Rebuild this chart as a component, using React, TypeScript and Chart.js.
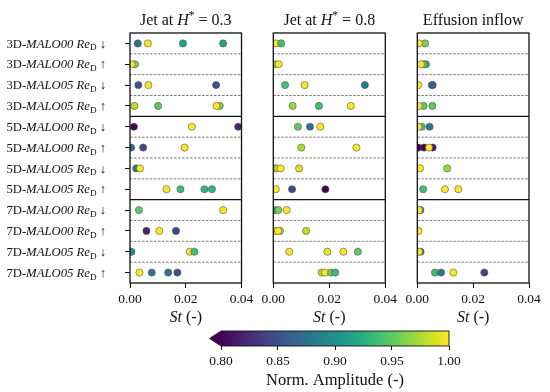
import React, { useEffect, useRef } from 'react';
import { Chart, registerables } from 'chart.js';

Chart.register(...registerables);

// ---------------- data ----------------
const rowCase = ['3D', '3D', '3D', '3D', '5D', '5D', '5D', '5D', '7D', '7D', '7D', '7D'];
const rowModel = ['MALO00', 'MALO00', 'MALO05', 'MALO05', 'MALO00', 'MALO00', 'MALO05', 'MALO05', 'MALO00', 'MALO00', 'MALO05', 'MALO05'];
const rowDir = ['↓', '↑', '↓', '↑', '↓', '↑', '↓', '↑', '↓', '↑', '↓', '↑'];

const xTicks = [0, 0.02, 0.04];
const cbarTicks = [0.8, 0.85, 0.9, 0.95, 1.0];
const cbarMin = 0.8;
const cbarMax = 1.0;

// Jet at H* = 0.3
const jet03St: number[][] = [
  [0.0028, 0.0064, 0.019, 0.0334],
  [0.0018, 0.0006],
  [0.003, 0.0066, 0.0309],
  [0.0016, 0.0101, 0.0322, 0.031],
  [0.0014, 0.0222, 0.0388],
  [0.0004, 0.0047, 0.0196],
  [0.0022, 0.0036],
  [0.0131, 0.0181, 0.0267, 0.0294],
  [0.0032, 0.0334],
  [0.0059, 0.0105, 0.0165],
  [0.0, 0.0005, 0.0214, 0.0231],
  [0.0034, 0.0078, 0.0137, 0.017],
];
const jet03Amp: number[][] = [
  [0.875, 1.0, 0.915, 0.915],
  [0.96, 1.0],
  [0.85, 1.0, 0.85],
  [0.98, 0.95, 0.96, 1.0],
  [0.8, 1.0, 0.82],
  [0.87, 0.845, 1.0],
  [0.88, 1.0],
  [1.0, 0.935, 0.93, 0.93],
  [0.95, 1.0],
  [0.82, 1.0, 0.845],
  [1.0, 0.9, 1.0, 0.94],
  [1.0, 0.88, 0.875, 0.85],
];

// Jet at H* = 0.8
const jet08St: number[][] = [
  [0.0009, 0.0028],
  [0.0005, 0.0019],
  [0.0042, 0.0112, 0.0327],
  [0.0069, 0.0163, 0.0277],
  [0.0088, 0.0131, 0.0168],
  [0.01, 0.0297],
  [0.0006, 0.0014, 0.0026, 0.0092],
  [0.0009, 0.0067, 0.0186],
  [0.0005, 0.0018, 0.0048],
  [0.0024, 0.0007, 0.0017, 0.0117],
  [0.0057, 0.0193, 0.025, 0.0302],
  [0.0173, 0.0185, 0.0206, 0.0221],
];
const jet08Amp: number[][] = [
  [1.0, 0.94],
  [0.96, 1.0],
  [0.94, 1.0, 0.88],
  [0.97, 0.94, 1.0],
  [0.95, 0.875, 1.0],
  [0.975, 1.0],
  [0.95, 0.98, 1.0, 0.99],
  [1.0, 0.845, 0.8],
  [0.9, 0.96, 1.0],
  [0.97, 1.0, 1.0, 0.98],
  [1.0, 0.995, 1.0, 0.95],
  [0.975, 1.0, 0.955, 0.935],
];

// Effusion inflow
const effSt: number[][] = [
  [0.0028, 0.0006],
  [0.0031, 0.0022, 0.0013],
  [0.0004, 0.0052, 0.0055],
  [0.0022, 0.0054, 0.0005],
  [0.0044, 0.0016, 0.0004],
  [0.0004, 0.0024, 0.0055, 0.0042],
  [0.001, 0.0107],
  [0.0021, 0.0099, 0.0147],
  [0.0011, 0.0006],
  [0.0004],
  [0.0012, 0.0006],
  [0.0063, 0.0085, 0.0129, 0.024],
];
const effAmp: number[][] = [
  [0.96, 1.0],
  [0.92, 0.95, 1.0],
  [1.0, 0.88, 0.86],
  [0.95, 0.95, 1.0],
  [0.875, 0.94, 1.0],
  [0.8, 0.8, 0.81, 1.0],
  [1.0, 0.97],
  [0.94, 1.0, 1.0],
  [0.88, 1.0],
  [1.0],
  [0.88, 1.0],
  [0.935, 0.88, 1.0, 0.84],
];

// ---------------- styling ----------------
const FONT = '"Liberation Serif", "Times New Roman", serif';
const FS = 13.5;
const LABEL_FS = 12.7;
const TITLE_FS = 16;
const TEXT = '#111';
const W = 550;
const H = 392;
const viridisStops = ['#440154', '#482475', '#414487', '#355f8d', '#2a788e', '#21918c', '#22a884', '#44bf70', '#7ad151', '#bddf26', '#fde725'];

function hexRgb(h: string) {
  return [parseInt(h.slice(1, 3), 16), parseInt(h.slice(3, 5), 16), parseInt(h.slice(5, 7), 16)];
}
function viridis(t: number) {
  const c = Math.max(0, Math.min(1, t));
  const p = c * (viridisStops.length - 1);
  const i = Math.min(viridisStops.length - 2, Math.floor(p));
  const f = p - i;
  const a = hexRgb(viridisStops[i]);
  const b = hexRgb(viridisStops[i + 1]);
  const m = a.map((v, k) => Math.round(v + (b[k] - v) * f));
  return `rgb(${m[0]},${m[1]},${m[2]})`;
}
function ampColor(v: number) {
  return viridis((v - cbarMin) / (cbarMax - cbarMin));
}

type Run = { t: string; s?: 'i' | 'sub' | 'sup' };
function runFont(r: Run, size: number) {
  const sz = r.s === 'sub' || r.s === 'sup' ? size * 0.72 : size;
  return `${r.s === 'i' ? 'italic ' : ''}${sz}px ${FONT}`;
}
function drawRuns(ctx: CanvasRenderingContext2D, runs: Run[], x: number, y: number, align: 'left' | 'center' | 'right', size = FS) {
  let w = 0;
  for (const r of runs) {
    ctx.font = runFont(r, size);
    w += ctx.measureText(r.t).width;
  }
  let cx = align === 'right' ? x - w : align === 'center' ? x - w / 2 : x;
  ctx.save();
  ctx.fillStyle = TEXT;
  ctx.textAlign = 'left';
  ctx.textBaseline = 'alphabetic';
  for (const r of runs) {
    ctx.font = runFont(r, size);
    const dy = r.s === 'sub' ? size * 0.22 : r.s === 'sup' ? -size * 0.38 : 0;
    ctx.fillText(r.t, cx, y + dy);
    cx += ctx.measureText(r.t).width;
  }
  ctx.restore();
}

function rowRuns(i: number): Run[] {
  return [
    { t: rowCase[i] + '-' },
    { t: rowModel[i], s: 'i' },
    { t: ' ' },
    { t: 'Re', s: 'i' },
    { t: 'D', s: 'sub' },
    { t: ' ' + rowDir[i] },
  ];
}

type PanelCfg = {
  st: number[][];
  amp: number[][];
  title: Run[];
  padLeft: number;
  padRight: number;
  showY: boolean;
  yAxisW: number;
};

const TOP = 33;
const BOTTOM = 283;

function makePanel(canvas: HTMLCanvasElement, cfg: PanelCfg) {
  const points = cfg.st.flatMap((row, r) => row.map((x) => ({ x, y: r })));
  const colors = cfg.amp.flat().map(ampColor);
  const plugin = {
    id: 'panelDeco',
    beforeDatasetsDraw(chart: any) {
      const { ctx, chartArea } = chart;
      const ys = chart.scales.y;
      ctx.save();
      for (let i = 0; i < rowCase.length - 1; i++) {
        const y = (ys.getPixelForValue(i) + ys.getPixelForValue(i + 1)) / 2;
        ctx.beginPath();
        if (i === 3 || i === 7) {
          ctx.setLineDash([]);
          ctx.strokeStyle = '#111';
          ctx.lineWidth = 1.3;
        } else {
          ctx.setLineDash([2.5, 1.5]);
          ctx.strokeStyle = '#7a7a7a';
          ctx.lineWidth = 1;
        }
        ctx.moveTo(chartArea.left, y);
        ctx.lineTo(chartArea.right, y);
        ctx.stroke();
      }
      ctx.restore();
    },
    afterDatasetsDraw(chart: any) {
      const { ctx, chartArea } = chart;
      ctx.save();
      ctx.strokeStyle = '#111';
      ctx.lineWidth = 1.3;
      ctx.strokeRect(chartArea.left, chartArea.top, chartArea.right - chartArea.left, chartArea.bottom - chartArea.top);
      ctx.restore();
    },
    afterDraw(chart: any) {
      const { ctx, chartArea } = chart;
      const cx = (chartArea.left + chartArea.right) / 2;
      drawRuns(ctx, cfg.title, cx, chartArea.top - 8, 'center', TITLE_FS);
      drawRuns(ctx, [{ t: 'St', s: 'i' }, { t: ' (-)' }], cx, chartArea.bottom + 38.5, 'center', TITLE_FS);
      if (cfg.showY) {
        const ys = chart.scales.y;
        for (let i = 0; i < rowCase.length; i++) {
          drawRuns(ctx, rowRuns(i), 106, ys.getPixelForValue(i) + 4.2, 'right', LABEL_FS);
        }
      }
    },
  };
  return new Chart(canvas, {
    type: 'scatter',
    data: {
      datasets: [
        {
          data: points,
          backgroundColor: colors,
          borderColor: '#555',
          borderWidth: 0.6,
          pointRadius: 3.6,
          clip: 0,
        } as any,
      ],
    },
    options: {
      responsive: false,
      animation: false,
      events: [],
      devicePixelRatio: 1,
      layout: { padding: { left: cfg.padLeft, right: cfg.padRight, top: TOP, bottom: 0 } },
      plugins: { legend: { display: false }, tooltip: { enabled: false }, title: { display: false } },
      scales: {
        x: {
          type: 'linear',
          min: 0,
          max: 0.04,
          afterBuildTicks: (s: any) => {
            s.ticks = xTicks.map((v) => ({ value: v }));
          },
          afterFit: (s: any) => {
            s.height = H - BOTTOM;
          },
          ticks: {
            callback: (v: any) => Number(v).toFixed(2),
            font: { family: FONT, size: FS },
            color: TEXT,
            padding: 3,
            maxRotation: 0,
            autoSkip: false,
          },
          grid: { drawOnChartArea: false, drawTicks: true, tickLength: 5, tickColor: '#111', tickWidth: 1 },
          border: { display: false },
        },
        y: {
          type: 'linear',
          min: -0.5,
          max: rowCase.length - 0.5,
          reverse: true,
          display: cfg.showY,
          afterBuildTicks: (s: any) => {
            s.ticks = rowCase.map((_, i) => ({ value: i }));
          },
          afterFit: (s: any) => {
            s.width = cfg.yAxisW;
          },
          ticks: { display: false },
          grid: { drawOnChartArea: false, drawTicks: true, tickLength: 5, tickColor: '#111', tickWidth: 1 },
          border: { display: false },
        },
      },
    } as any,
    plugins: [plugin],
  });
}

function makeColorbar(canvas: HTMLCanvasElement) {
  const plugin = {
    id: 'cbar',
    beforeDatasetsDraw(chart: any) {
      const { ctx, chartArea } = chart;
      const xs = chart.scales.x;
      const l = xs.getPixelForValue(cbarMin);
      const r = xs.getPixelForValue(cbarMax);
      const t = chartArea.top;
      const b = chartArea.bottom;
      const ext = 0.05 * (r - l);
      const g = ctx.createLinearGradient(l, 0, r, 0);
      viridisStops.forEach((c, i) => g.addColorStop(i / (viridisStops.length - 1), c));
      ctx.save();
      ctx.fillStyle = g;
      ctx.fillRect(l, t, r - l, b - t);
      ctx.beginPath();
      ctx.moveTo(l + 0.5, t);
      ctx.lineTo(l - ext, (t + b) / 2);
      ctx.lineTo(l + 0.5, b);
      ctx.closePath();
      ctx.fillStyle = viridisStops[0];
      ctx.fill();
      ctx.beginPath();
      ctx.moveTo(l, t);
      ctx.lineTo(r, t);
      ctx.lineTo(r, b);
      ctx.lineTo(l, b);
      ctx.lineTo(l - ext, (t + b) / 2);
      ctx.closePath();
      ctx.strokeStyle = '#111';
      ctx.lineWidth = 0.9;
      ctx.stroke();
      ctx.restore();
    },
    afterDraw(chart: any) {
      const { ctx, chartArea } = chart;
      drawRuns(ctx, [{ t: 'Norm. Amplitude (-)' }], (chartArea.left + chartArea.right) / 2, 385, 'center', 16.5);
    },
  };
  return new Chart(canvas, {
    type: 'scatter',
    data: { datasets: [{ data: [] }] },
    options: {
      responsive: false,
      animation: false,
      events: [],
      devicePixelRatio: 1,
      layout: { padding: { left: 221, right: W - 449, top: 331, bottom: 0 } },
      plugins: { legend: { display: false }, tooltip: { enabled: false } },
      scales: {
        x: {
          type: 'linear',
          min: cbarMin,
          max: cbarMax,
          afterBuildTicks: (s: any) => {
            s.ticks = cbarTicks.map((v) => ({ value: v }));
          },
          afterFit: (s: any) => {
            s.height = H - 346;
          },
          ticks: {
            callback: (v: any) => Number(v).toFixed(2),
            font: { family: FONT, size: FS },
            color: TEXT,
            padding: 3,
            maxRotation: 0,
            autoSkip: false,
          },
          grid: { drawOnChartArea: false, drawTicks: true, tickLength: 4, tickColor: '#111', tickWidth: 1 },
          border: { display: false },
        },
        y: { display: false, min: 0, max: 1 },
      },
    } as any,
    plugins: [plugin],
  });
}

const panels: PanelCfg[] = [
  {
    st: jet03St,
    amp: jet03Amp,
    title: [{ t: 'Jet at ' }, { t: 'H', s: 'i' }, { t: '*', s: 'sup' }, { t: ' = 0.3' }],
    padLeft: 0,
    padRight: W - 241.5,
    showY: true,
    yAxisW: 130,
  },
  {
    st: jet08St,
    amp: jet08Amp,
    title: [{ t: 'Jet at ' }, { t: 'H', s: 'i' }, { t: '*', s: 'sup' }, { t: ' = 0.8' }],
    padLeft: 273.3,
    padRight: W - 385.3,
    showY: false,
    yAxisW: 0,
  },
  {
    st: effSt,
    amp: effAmp,
    title: [{ t: 'Effusion inflow' }],
    padLeft: 417.3,
    padRight: W - 529,
    showY: false,
    yAxisW: 0,
  },
];

const canvasStyle: React.CSSProperties = { position: 'absolute', left: 0, top: 0, width: W, height: H };

export default function App() {
  const refs = [useRef<HTMLCanvasElement>(null), useRef<HTMLCanvasElement>(null), useRef<HTMLCanvasElement>(null)];
  const cbRef = useRef<HTMLCanvasElement>(null);
  useEffect(() => {
    document.body.style.margin = '0';
    document.body.style.background = '#fff';
    const charts: Chart[] = [];
    panels.forEach((p, i) => {
      if (refs[i].current) charts.push(makePanel(refs[i].current as HTMLCanvasElement, p));
    });
    if (cbRef.current) charts.push(makeColorbar(cbRef.current));
    return () => charts.forEach((c) => c.destroy());
  }, []);
  return (
    <div style={{ position: 'relative', width: W, height: H, background: '#fff' }}>
      {refs.map((r, i) => (
        <canvas key={i} ref={r} width={W} height={H} style={canvasStyle} />
      ))}
      <canvas ref={cbRef} width={W} height={H} style={canvasStyle} />
    </div>
  );
}
